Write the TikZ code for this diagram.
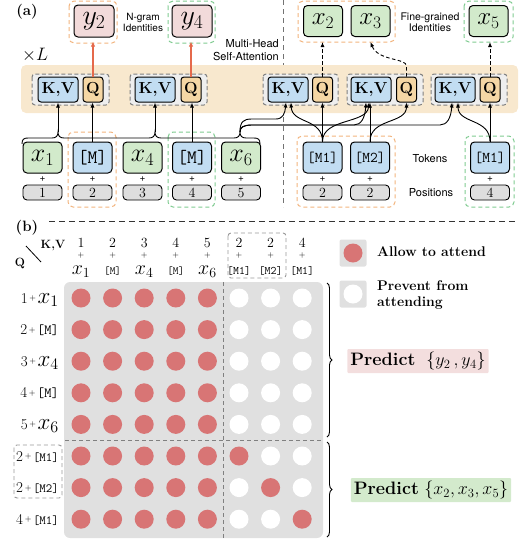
\RequirePackage{fix-cm}
\documentclass[tikz,border=0pt]{standalone}
\usepackage{fontspec}
\newfontfamily\hv{TeX Gyre Heros}
\usetikzlibrary{arrows.meta,decorations.pathreplacing,calc}
\definecolor{tokgreen}{HTML}{D2EACB}
\definecolor{tokblue}{HTML}{C2DDF2}
\definecolor{ypink}{HTML}{F2DADA}
\definecolor{qorange}{HTML}{F5D7A5}
\definecolor{posgray}{HTML}{DEDEDE}
\definecolor{bandcol}{HTML}{F8E8CE}
\definecolor{dorange}{HTML}{F2B47E}
\definecolor{dgreen}{HTML}{7FCB90}
\definecolor{grpfill}{HTML}{EEEEEE}
\definecolor{grpline}{HTML}{808080}
\definecolor{arrred}{HTML}{E5694B}
\definecolor{dotred}{HTML}{D87575}
\definecolor{matgray}{HTML}{E0E0E0}
\definecolor{predpink}{HTML}{F3DEDE}
\definecolor{predgreen}{HTML}{D3EACC}
\newcommand{\fsz}[1]{\fontsize{#1}{#1}\selectfont}
\begin{document}
\begin{tikzpicture}[x=1pt,y=-1pt,
  boxbase/.style={draw=black, line width=1pt, inner sep=0pt},
  tokbox/.style={boxbase, rounded corners=4pt, minimum width=39pt, minimum height=31pt},
  xtok/.style={tokbox, fill=tokgreen, font=\fsz{26}},
  mtok/.style={tokbox, fill=tokblue, font=\ttfamily\fsz{19}},
  mmtok/.style={tokbox, fill=tokblue, font=\ttfamily\fsz{15}},
  posbox/.style={boxbase, line width=0.9pt, rounded corners=4pt, fill=posgray, minimum width=39pt, minimum height=15pt, font=\fsz{14}},
  plusl/.style={font=\hv\fsz{10}, inner sep=0pt},
  kvbox/.style={boxbase, rounded corners=3pt, fill=tokblue, minimum width=40pt, minimum height=25pt, font=\bfseries\fsz{16}},
  qbox/.style={boxbase, rounded corners=3pt, fill=qorange, minimum width=20pt, minimum height=25pt, font=\bfseries\fsz{16}},
  grpbox/.style={draw=grpline, dash pattern=on 4pt off 2.5pt, line width=1pt, rounded corners=3pt, fill=grpfill},
  odash/.style={draw=dorange, dash pattern=on 4pt off 3pt, line width=1pt, rounded corners=5pt},
  gdash/.style={draw=dgreen, dash pattern=on 4pt off 3pt, line width=1pt, rounded corners=5pt},
  gydash/.style={draw=grpline!80, dash pattern=on 4pt off 3pt, line width=0.9pt, rounded corners=3pt},
  ybox/.style={boxbase, rounded corners=4pt, fill=ypink, minimum width=40pt, minimum height=32pt, font=\fsz{28}},
  xtopbox/.style={boxbase, rounded corners=4pt, fill=tokgreen, minimum width=39pt, minimum height=31pt, font=\fsz{25}},
  sanslab/.style={font=\hv\fsz{10}, align=center, inner sep=0pt},
  arr/.style={-{Latex[length=5pt,width=4pt]}, line width=0.9pt},
  redarr/.style={-{Latex[length=5pt,width=4.5pt]}, draw=arrred, line width=1.2pt},
  darr/.style={-{Latex[length=5pt,width=4pt]}, line width=0.9pt, dash pattern=on 3.5pt off 2.5pt},
  dot1/.style={circle, fill=dotred, minimum size=19pt, inner sep=0pt},
  dot0/.style={circle, fill=white, minimum size=19pt, inner sep=0pt},
  hnum/.style={font=\fsz{14}, inner sep=0pt},
  hplus/.style={font=\fsz{8}, inner sep=0pt},
  htok/.style={font=\fsz{20}, inner sep=0pt, anchor=base},
  rlab/.style={inner sep=0pt, anchor=base east},
  legtxt/.style={font=\bfseries\fsz{14}, anchor=west, align=left, inner sep=0pt},
  predbox/.style={font=\fsz{18}, inner sep=3pt, rounded corners=1pt}
]
\useasboundingbox (0,0) rectangle (520,542);

% ---------------- (a) ----------------
\node[font=\bfseries\fsz{15}] (alab) at (27,12) {(a)};
\node[font=\fsz{18}] (xl) at (35,55) {$\times L$};

% vertical separator
\draw[draw=grpline!90!black, dash pattern=on 5pt off 4pt, line width=1pt] (283,0) -- (283,207);

% band
\fill[bandcol, rounded corners=5pt] (21,65) rectangle (518,113);

% outputs
\draw[odash] (69,1) rectangle (117,43);
\draw[gdash] (168,1) rectangle (215,43);
\draw[odash] (298,1) rectangle (395,42);
\draw[gdash] (464,1) rectangle (513,42);
\node[ybox] (y2) at (94,21) {$y_2$};
\node[ybox] (y4) at (192,21) {$y_4$};
\node[xtopbox] (x2) at (323,21) {$x_2$};
\node[xtopbox] (x3) at (370.5,21) {$x_3$};
\node[xtopbox] (x5) at (488.5,21) {$x_5$};
\node[sanslab] (ng) at (143,22) {N-gram\\[1pt]Identities};
\node[sanslab, font=\hv\fsz{10.5}] (fg) at (430,22) {Fine-grained\\[1pt]Identities};
\node[sanslab, font=\hv\fsz{11}, align=right, anchor=east] (mh) at (279,50) {Multi-Head\\[2pt]Self-Attention};

% attention groups
\draw[grpbox] (32,74) rectangle (109,105);
\draw[grpbox] (130,74) rectangle (207,105);
\draw[grpbox] (263,74) rectangle (338,105);
\draw[grpbox] (347,74) rectangle (423,105);
\draw[grpbox] (431,74) rectangle (507,105);
\node[kvbox] (kv1) at (58,89.5) {K,V};
\node[qbox] (q1) at (93,89.5) {Q};
\node[kvbox] (kv2) at (155,89.5) {K,V};
\node[qbox] (q2) at (191,89.5) {Q};
\node[kvbox] (kv3) at (288,89.5) {K,V};
\node[qbox] (q3) at (322.5,89.5) {Q};
\node[kvbox] (kv4) at (371,89.5) {K,V};
\node[qbox] (q4) at (406.5,89.5) {Q};
\node[kvbox] (kv5) at (455,89.5) {K,V};
\node[qbox] (q5) at (490,89.5) {Q};

% token dashed groups
\draw[odash] (68,132) rectangle (116,207);
\draw[gdash] (168,132) rectangle (215,207);
\draw[odash] (297,136) rectangle (395,207);
\draw[gdash] (465,136) rectangle (514,207);

% tokens
\node[xtok] (t1) at (42.5,157.5) {$x_1$};
\node[mtok] (t2) at (92.5,157.5) {[M]};
\node[xtok] (t3) at (142.5,157.5) {$x_4$};
\node[mtok] (t4) at (192,157.5) {[M]};
\node[xtok] (t5) at (241,157.5) {$x_6$};
\node[mmtok] (t6) at (322.5,157.5) {[M1]};
\node[mmtok] (t7) at (370,157.5) {[M2]};
\node[mmtok] (t8) at (490,157.5) {[M1]};
\foreach \xx/\pp [count=\i] in {42.5/1,92.5/2,142.5/3,192/4,241/5,322.5/2,370/2,490/4}{
  \node[plusl] (pl\i) at (\xx,179) {+};
  \node[posbox] (p\i) at (\xx,192.5) {\pp};
}
\node[sanslab, font=\hv\fsz{11}] (tokl) at (430,159) {Tokens};
\node[sanslab, font=\hv\fsz{11}] (posl) at (431,193) {Positions};

% brace over context tokens
\coordinate (c1) at (58,132);
\coordinate (c2) at (155,132);
\coordinate (c3) at (240,132);
\draw[line width=0.9pt] (22,144) .. controls (22,139) and (24,138) .. (28,138) -- (52,138)
  .. controls (56,138) and (58,136) .. (c1) .. controls (58,136) and (60,138) .. (64,138)
  -- (149,138) .. controls (153,138) and (155,136) .. (c2) .. controls (155,136) and (157,138) .. (161,138)
  -- (234,138) .. controls (238,138) and (240,136) .. (c3) .. controls (240,136) and (242,138) .. (246,138)
  -- (254,138) .. controls (258,138) and (260,139) .. (260,144);

% connectors to K,V / Q
\draw[arr] (c1) -- (kv1.south);
\draw[arr] (c2) -- (kv2.south);
\draw[arr] (t2.north) -- (t2.north |- q1.south);
\draw[arr] (t4.north) -- (t4.north |- q2.south);
\draw[arr] (c3) .. controls (240,121) and (244,119) .. (252,119) -- (276,119)
  .. controls (283,119) and (285,113) .. ([xshift=-2pt]kv3.south);
\draw[arr] (c3) .. controls (240,127) and (244,125) .. (252,125) -- (354,125)
  .. controls (361,125) and (365,118) .. ([xshift=-5pt]kv4.south);
\draw[arr] (c3) .. controls (240,127) and (244,125) .. (252,125) -- (440,125)
  .. controls (447,125) and (451,118) .. ([xshift=-3pt]kv5.south);
\draw[arr] (t6.north) -- (q3.south);
\draw[arr] (t6.north) .. controls (322.5,118) and (292,124) .. ([xshift=3pt]kv3.south);
\draw[arr] (t6.north) .. controls (322.5,118) and (367,124) .. ([xshift=-2pt]kv4.south);
\draw[arr] (t7.north) -- (t7.north |- kv4.south);
\draw[arr] (t7.north) .. controls (370,118) and (406.5,124) .. (q4.south);
\draw[arr] (t8.north) -- (q5.south);
\draw[arr] (t8.north) .. controls (490,118) and (458,124) .. ([xshift=3pt]kv5.south);

% outputs
\draw[redarr] (q1.north) -- ($(q1.north |- y2.south)+(0,4)$);
\draw[redarr] (q2.north) -- ($(q2.north |- y4.south)+(0,4)$);
\draw[darr] (q3.north) -- ($(q3.north |- x2.south)+(0,5)$);
\draw[darr] (q4.north) -- (406.5,66) .. controls (406.5,58) and (378,61) .. ($(x3.south)+(0,5)$);
\draw[darr] (q5.north) -- ($(q5.north |- x5.south)+(0,5)$);

% ---------------- (b) ----------------
\draw[draw=black!80, dash pattern=on 6pt off 4pt, line width=1pt] (49,221) -- (518,221);
\node[font=\bfseries\fsz{15}] (blab) at (27,228) {(b)};
\node[font=\bfseries\fsz{12}] (kvh) at (53,246) {K,V};
\node[font=\bfseries\fsz{12}] (qh) at (20,263) {Q};
\draw[line width=0.8pt] (26,246) -- (41,262);

% matrix background
\fill[matgray, rounded corners=6pt] (64,282) rectangle (323,538);
\draw[draw=grpline, dash pattern=on 4pt off 3pt, line width=1pt] (223,282) -- (223,538);
\draw[draw=grpline, dash pattern=on 4pt off 3pt, line width=1pt] (65,440) -- (323,440);

% header
\draw[gydash] (228,233) rectangle (286,278);
\foreach \n/\t [count=\c] in {1/{$x_1$},2/{\ttfamily\fsz{11}[M]},3/{$x_4$},4/{\ttfamily\fsz{11}[M]},5/{$x_6$},2/{\ttfamily\fsz{11.5}[M1]},2/{\ttfamily\fsz{11.5}[M2]},4/{\ttfamily\fsz{11.5}[M1]}}{
  \pgfmathsetmacro\cx{81+31.6*(\c-1)}
  \node[hnum] (hn\c) at (\cx,242.5) {\n};
  \node[hplus] (hp\c) at (\cx,255) {+};
  \node[htok] (ht\c) at (\cx,274.5) {\t};
}

% row labels
\draw[gydash] (14,445) rectangle (62,498);
\foreach \n/\t [count=\r] in {1/{$x_1$},2/{\ttfamily\fsz{14}[M]},3/{$x_4$},4/{\ttfamily\fsz{14}[M]},5/{$x_6$},2/{\ttfamily\fsz{12.5}[M1]},2/{\ttfamily\fsz{12.5}[M2]},4/{\ttfamily\fsz{12.5}[M1]}}{
  \pgfmathsetmacro\ry{298+31.6*(\r-1)+5}
  \node[rlab] (rl\r) at (59,\ry) {{\fsz{15}\n}\,{\fsz{8}\raisebox{2.5pt}{+}}\,{\fsz{23}\t}};
}

% dots
\foreach \pat [count=\r] in {{1,1,1,1,1,0,0,0},{1,1,1,1,1,0,0,0},{1,1,1,1,1,0,0,0},{1,1,1,1,1,0,0,0},{1,1,1,1,1,0,0,0},{1,1,1,1,1,1,0,0},{1,1,1,1,1,0,1,0},{1,1,1,1,1,0,0,1}}{
  \foreach \v [count=\c] in \pat {
    \node[dot\v] (d\r-\c) at ({81+31.6*(\c-1)},{298+31.6*(\r-1)}) {};
  }
}

% braces
\draw[decorate, decoration={brace, amplitude=5pt}, line width=0.9pt] (327,283) -- (327,437);
\draw[decorate, decoration={brace, amplitude=5pt}, line width=0.9pt] (327,442) -- (327,537);

% predict boxes
\node[predbox, fill=predpink] (pp) at (418,361) {\textbf{Predict}\ \ $\Big\{y_2\,,y_4\Big\}$};
\node[predbox, fill=predgreen] (pg) at (431,490) {\textbf{Predict}\ $\Big\{x_2,x_3,x_5\Big\}$};

% legend
\fill[matgray, rounded corners=2pt] (339.5,239.5) rectangle (366.5,266.5);
\node[dot1] (lg1) at (353,253) {};
\node[legtxt] (lt1) at (377,252) {Allow to attend};
\fill[matgray, rounded corners=2pt] (339.5,280.5) rectangle (366.5,307.5);
\node[dot0] (lg2) at (353,294) {};
\node[legtxt, font={\bfseries\fontsize{14}{16}\selectfont}] (lt2) at (377,295) {Prevent from\\attending};
\end{tikzpicture}
\end{document}
